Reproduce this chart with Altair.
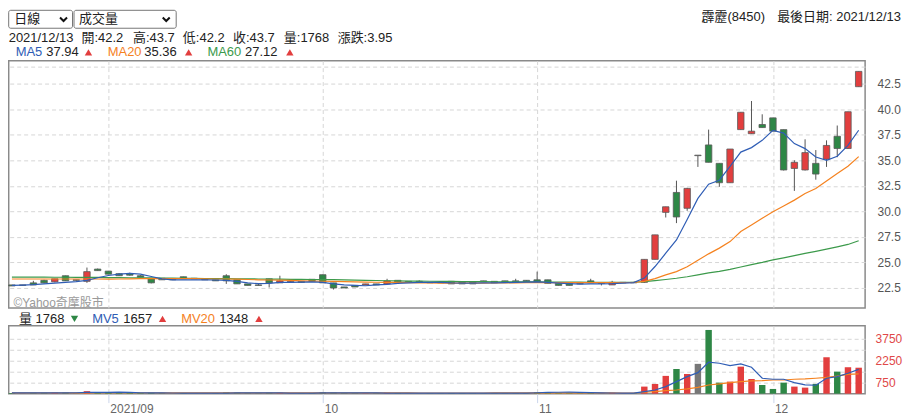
import altair as alt
import pandas as pd

# ---------------- data ----------------
opens = [22.8, 22.75, 23.0, 23.25, 23.1, 23.7, 23.25, 23.15, 24.35, 24.15,
         23.9, 23.9, 23.7, 23.4, 23.45, 23.3, 23.6, 23.4, 23.3, 23.3,
         23.7, 23.3, 22.9, 22.8, 23.4, 23.0, 23.05, 23.15, 23.35, 23.8,
         23.0, 22.6, 22.75, 22.8, 22.9, 22.9, 23.25, 23.1, 23.1, 23.05,
         23.05, 23.15, 23.1, 23.1, 23.2, 23.15, 23.2, 23.2, 23.25, 23.3,
         23.3, 22.95, 22.95, 22.95, 23.2, 22.95, 22.8, 23.0, 23.05, 23.05,
         25.3, 29.9, 31.85, 30.3, 35.45, 36.5, 34.7, 32.8, 38.0, 37.6,
         38.5, 39.15, 38.0, 34.2, 34.05, 34.7, 35.1, 37.35, 36.15, 42.2]
highs = [22.8, 22.8, 23.2, 23.3, 23.4, 23.7, 23.3, 24.5, 24.4, 24.15,
         23.95, 24.0, 23.75, 23.4, 23.45, 23.35, 23.6, 23.45, 23.35, 23.3,
         23.85, 23.3, 22.9, 22.9, 23.4, 23.7, 23.15, 23.15, 23.35, 23.8,
         23.0, 22.6, 22.75, 22.9, 22.9, 23.4, 23.25, 23.1, 23.25, 23.05,
         23.05, 23.15, 23.1, 23.1, 23.2, 23.15, 23.2, 23.4, 23.25, 24.1,
         23.3, 22.95, 22.95, 22.95, 23.4, 22.95, 23.2, 23.05, 23.05, 25.3,
         27.7, 30.45, 33.0, 32.3, 35.45, 38.0, 34.7, 36.1, 39.7, 40.8,
         39.5, 39.15, 38.0, 35.0, 37.05, 36.0, 36.95, 38.4, 39.75, 43.7]
lows = [22.7, 22.75, 22.8, 22.95, 23.05, 23.2, 23.2, 23.0, 24.2, 23.85,
        23.7, 23.7, 23.55, 22.95, 23.3, 23.3, 23.4, 23.4, 23.3, 23.2,
        22.9, 22.9, 22.75, 22.75, 22.55, 23.0, 23.05, 23.05, 23.15, 23.0,
        22.35, 22.5, 22.6, 22.8, 22.8, 22.9, 23.05, 23.1, 23.1, 23.0,
        23.0, 22.9, 22.9, 22.9, 23.1, 23.0, 23.1, 23.1, 23.1, 23.1,
        22.95, 22.75, 22.75, 22.9, 23.0, 22.75, 22.8, 23.0, 23.0, 23.0,
        25.3, 29.4, 28.85, 30.05, 34.35, 34.8, 32.4, 32.8, 38.0, 37.6,
        38.2, 37.85, 34.0, 32.0, 34.0, 33.1, 34.35, 35.3, 36.1, 42.2]
closes = [22.7, 22.75, 22.8, 23.0, 23.4, 23.2, 23.25, 24.1, 24.2, 23.85,
          23.7, 23.75, 23.55, 23.0, 23.3, 23.3, 23.4, 23.4, 23.3, 23.2,
          23.2, 22.9, 22.75, 22.75, 23.0, 23.2, 23.15, 23.05, 23.15, 23.0,
          22.5, 22.5, 22.6, 22.9, 22.8, 23.2, 23.1, 23.1, 23.1, 23.0,
          23.0, 22.9, 22.9, 22.9, 23.1, 23.0, 23.1, 23.1, 23.1, 23.1,
          22.95, 22.75, 22.75, 22.9, 23.0, 22.95, 23.05, 23.05, 23.0, 25.3,
          27.7, 30.45, 29.45, 32.25, 35.45, 34.8, 32.8, 36.1, 39.7, 37.85,
          38.2, 37.85, 34.05, 34.8, 35.75, 33.65, 36.45, 36.15, 39.75, 43.7]
volumes = [45, 30, 60, 55, 70, 80, 40, 170, 90, 75,
           50, 45, 40, 60, 35, 20, 40, 25, 20, 30,
           85, 70, 30, 25, 60, 55, 20, 25, 35, 95,
           80, 40, 35, 30, 30, 60, 45, 15, 20, 25,
           25, 45, 40, 35, 30, 30, 25, 30, 30, 90,
           60, 45, 40, 25, 50, 30, 55, 20, 25, 480,
           660, 1210, 1680, 1340, 2030, 4340, 750, 820, 1840, 1000,
           590, 320, 750, 480, 410, 660, 2480, 1500, 1800, 1768]
ma5 = [22.75, 22.78, 22.82, 22.9, 22.97, 23.05, 23.12, 23.24, 23.5, 23.72,
       23.85, 23.92, 23.85, 23.62, 23.4, 23.3, 23.3, 23.3, 23.3, 23.28,
       23.25, 23.15, 23.0, 22.92, 22.95, 23.05, 23.05, 23.08, 23.1, 23.05,
       22.9, 22.8, 22.75, 22.72, 22.8, 22.85, 22.95, 23.0, 23.05, 23.05,
       23.05, 23.0, 22.98, 22.98, 23.0, 23.0, 23.02, 23.05, 23.08, 23.1,
       23.05, 22.98, 22.92, 22.88, 22.9, 22.9, 22.92, 22.98, 23.02, 23.47,
       24.6, 25.9, 27.2, 29.2, 31.27, 32.66, 33.05, 34.41, 35.8, 36.24,
       36.95, 37.92, 37.66, 36.63, 36.14, 35.32, 35.0, 35.39, 36.46, 37.94]
ma20 = [23.38, 23.38, 23.38, 23.38, 23.38, 23.38, 23.38, 23.38, 23.38, 23.37,
        23.38, 23.4, 23.42, 23.42, 23.42, 23.42, 23.42, 23.42, 23.4, 23.38,
        23.38, 23.36, 23.33, 23.3, 23.28, 23.26, 23.24, 23.2, 23.18, 23.16,
        23.14, 23.12, 23.1, 23.08, 23.06, 23.05, 23.04, 23.02, 23.0, 22.99,
        22.98, 22.98, 22.98, 22.98, 22.98, 22.99, 23.0, 23.0, 23.01, 23.02,
        23.02, 23.02, 23.02, 23.02, 23.02, 23.02, 23.02, 23.03, 23.04, 23.15,
        23.42, 23.78, 24.1, 24.58, 25.22, 25.84, 26.4, 27.04, 28.02, 28.67,
        29.32, 29.96, 30.52, 31.1, 31.75, 32.24, 32.98, 33.7, 34.41, 35.36]
ma60 = [23.57, 23.57, 23.56, 23.56, 23.55, 23.55, 23.54, 23.54, 23.53, 23.52,
        23.51, 23.5, 23.49, 23.48, 23.47, 23.46, 23.45, 23.44, 23.43, 23.42,
        23.41, 23.4, 23.39, 23.38, 23.37, 23.36, 23.35, 23.34, 23.33, 23.32,
        23.31, 23.29, 23.27, 23.25, 23.23, 23.21, 23.2, 23.18, 23.17, 23.16,
        23.15, 23.14, 23.13, 23.12, 23.12, 23.11, 23.1, 23.1, 23.09, 23.09,
        23.08, 23.08, 23.07, 23.07, 23.06, 23.06, 23.05, 23.05, 23.06, 23.12,
        23.22, 23.33, 23.45, 23.6, 23.78, 23.98, 24.13, 24.32, 24.55, 24.78,
        25.0, 25.25, 25.45, 25.66, 25.88, 26.08, 26.3, 26.53, 26.76, 27.12]
mv5 = [55, 55, 52, 50, 52, 59, 61, 83, 90, 91,
       97, 86, 62, 52, 46, 43, 40, 36, 30, 31,
       40, 46, 48, 48, 54, 48, 42, 37, 40, 48,
       50, 56, 57, 56, 52, 40, 38, 34, 34, 33,
       30, 30, 32, 34, 37, 36, 33, 31, 30, 60,
       80, 95, 100, 90, 70, 55, 44, 36, 38, 136,
       250, 477, 818, 1160, 1432, 2140, 2073, 1910, 2025, 1800,
       1050, 982, 982, 750, 593, 573, 1050, 1160, 1391, 1657]
mv20 = [52, 52, 51, 51, 52, 53, 53, 58, 60, 61,
        62, 62, 61, 60, 58, 56, 55, 54, 52, 50,
        52, 53, 53, 52, 52, 51, 50, 49, 49, 50,
        50, 50, 50, 49, 48, 48, 47, 46, 45, 44,
        44, 44, 45, 45, 45, 46, 46, 46, 46, 47,
        48, 48, 48, 47, 47, 46, 46, 45, 45, 100,
        136, 200, 250, 320, 430, 590, 660, 750, 818, 864,
        886, 930, 930, 980, 1000, 1050, 1114, 1200, 1310, 1348]

month_idx = [9, 29, 49, 71]
month_labels = ["2021/09", "10", "11", "12"]
price_ticks = [22.5, 25.0, 27.5, 30.0, 32.5, 35.0, 37.5, 40.0, 42.5]
extra_grid = [44.15]
vol_ticks = [750, 1500, 2250, 3000, 3750]

stock_name = "霹靂(8450)"
last_date = "2021/12/13"
head_items = ["開:42.2", "高:43.7", "低:42.2", "收:43.7", "量:1768", "漲跌:3.95"]
ma_names = ["MA5", "MA20", "MA60"]
ma_vals = ["37.94", "35.36", "27.12"]
mv_names = ["MV5", "MV20"]
mv_vals = ["1657", "1348"]
vol_last = "1768"

# ---------------- styles ----------------
FONT = "Arial, 'Liberation Sans', 'Noto Sans CJK TC', sans-serif"
RED = "#e23e3e"
GREEN = "#2e8746"
GRAY = "#777777"
BLUE = "#2f5db5"
ORANGE = "#f5821f"
MGREEN = "#3c9a4b"
GRID = "#d6d6d6"
W = 859

n = len(closes)
df = pd.DataFrame({"i": list(range(n)), "o": opens, "h": highs, "l": lows, "c": closes,
                   "v": volumes, "ma5": ma5, "ma20": ma20, "ma60": ma60,
                   "mv5": mv5, "mv20": mv20})
df["dir"] = ["up" if c > o else ("down" if c < o else "flat") for o, c in zip(opens, closes)]
one = pd.DataFrame({"k": [0]})

xscale = alt.Scale(domain=[-0.3, 79.6], nice=False, zero=False)
pscale = alt.Scale(domain=[20.55, 44.75], nice=False, zero=False)
vscale = alt.Scale(domain=[0, 4620], nice=False)
color = alt.Color("dir:N", scale=alt.Scale(domain=["up", "down", "flat"], range=[RED, GREEN, GRAY]), legend=None)

lab_expr = "''"
for v, l in reversed(list(zip(month_idx, month_labels))):
    lab_expr = f"datum.value == {v} ? '{l}' : {lab_expr}"

px_axis = alt.Axis(values=month_idx, grid=True, gridDash=[4, 3], gridColor=GRID,
                   labels=False, ticks=False, domain=False)
py_axis = alt.Axis(orient="right", values=price_ticks + extra_grid, grid=True, gridDash=[4, 3],
                   gridColor=GRID, ticks=False, domain=False, labelPadding=12,
                   labelColor="#555", labelFontSize=12, labelFont=FONT,
                   labelExpr="datum.value > 43.5 ? '' : format(datum.value, '.1f')")
vx_axis = alt.Axis(values=month_idx, grid=True, gridDash=[4, 3], gridColor=GRID,
                   labelExpr=lab_expr, ticks=True, tickColor="#ccd6eb", tickSize=9,
                   domain=False, labelAlign="left", labelBaseline="top", labelOffset=1.5,
                   labelPadding=1, labelColor="#666", labelFontSize=12, labelFont=FONT,
                   labelFlush=False, labelOverlap=False)
vy_axis = alt.Axis(orient="right", values=vol_ticks, grid=True, gridDash=[4, 3], gridColor=GRID,
                   ticks=False, domain=False, labelPadding=10, labelColor="#e04848",
                   labelFontSize=12, labelFont=FONT, format="d")


def X(field):
    return alt.X(field, scale=xscale, axis=px_axis, title=None)


def VX(field):
    return alt.X(field, scale=xscale, axis=vx_axis, title=None)


def PY(field):
    return alt.Y(field, scale=pscale, axis=py_axis, title=None)


def VY(field):
    return alt.Y(field, scale=vscale, axis=vy_axis, title=None)


base = alt.Chart(df)

# ---------------- price panel ----------------
wick = base.mark_rule(color="#555", strokeWidth=1).encode(x=X("i:Q"), y=PY("l:Q"), y2="h:Q")
body = base.transform_calculate(
    x0="datum.i - 0.3", x1="datum.i + 0.3",
    c2="datum.c == datum.o ? datum.o + 0.05 : datum.c"
).mark_rect(stroke="#5a5a5a", strokeWidth=0.8).encode(
    x=X("x0:Q"), x2="x1:Q", y=PY("o:Q"), y2="c2:Q", color=color)
l60 = base.mark_line(color=MGREEN, strokeWidth=1.2).encode(x=X("i:Q"), y=PY("ma60:Q"))
l20 = base.mark_line(color=ORANGE, strokeWidth=1.2).encode(x=X("i:Q"), y=PY("ma20:Q"))
l5 = base.mark_line(color=BLUE, strokeWidth=1.2).encode(x=X("i:Q"), y=PY("ma5:Q"))
copyr = alt.Chart(one).mark_text(text="©Yahoo奇摩股市", align="left", baseline="middle",
                                 fontSize=12, color="#9a9a9a", font=FONT).encode(
    x=alt.value(4.7), y=alt.value(243))

price = alt.layer(wick, body, l60, l20, l5, copyr).properties(
    width=W, height=248, view=alt.ViewBackground(stroke="#8a8a8a", strokeWidth=1.5))

# ---------------- volume panel ----------------
vbar = base.transform_calculate(x0="datum.i - 0.3", x1="datum.i + 0.3").mark_rect().encode(
    x=VX("x0:Q"), x2="x1:Q", y=VY("v:Q"), y2=alt.datum(0), color=color)
vl20 = base.mark_line(color=ORANGE, strokeWidth=1.2).encode(x=VX("i:Q"), y=VY("mv20:Q"))
vl5 = base.mark_line(color=BLUE, strokeWidth=1.2).encode(x=VX("i:Q"), y=VY("mv5:Q"))
vol = alt.layer(vbar, vl20, vl5).properties(
    width=W, height=68, view=alt.ViewBackground(stroke="#8a8a8a", strokeWidth=1.5))


# ---------------- header pieces ----------------
def txt(s, x, y, color="#222", size=13, align="left"):
    return alt.Chart(one).mark_text(text=s, align=align, baseline="middle", fontSize=size,
                                    color=color, font=FONT).encode(x=alt.value(x), y=alt.value(y))


def tri(x, y, up=True):
    return alt.Chart(one).mark_point(shape="triangle-up" if up else "triangle-down", filled=True,
                                     size=55, opacity=1, color=RED if up else GREEN).encode(
        x=alt.value(x), y=alt.value(y))


def box(x0, x1):
    return alt.Chart(one).mark_rect(fill="white", stroke="#767676", strokeWidth=1, cornerRadius=2).encode(
        x=alt.value(x0), x2=alt.value(x1), y=alt.value(1.5), y2=alt.value(19.5))


def chevron(x):
    return alt.Chart(one).mark_point(shape="M-1,-0.5L0,0.5L1,-0.5", filled=False, stroke="#111",
                                     strokeWidth=2, size=49, opacity=1).encode(
        x=alt.value(x), y=alt.value(10.5))


hdr_layers = [box(0, 64), box(65.5, 168), txt("日線", 5.5, 10.5), txt("成交量", 70.5, 10.5),
              chevron(55), chevron(158),
              txt(stock_name, 695, 8),
              txt("最後日期: " + last_date, 895, 8, align="right"),
              txt(last_date, 0, 29)]
for s, x in zip(head_items, [73, 124.7, 174.7, 225, 276, 330]):
    hdr_layers.append(txt(s, x, 29))
ma_colors = [BLUE, ORANGE, MGREEN]
for name, val, col, xn, xv, xt in zip(ma_names, ma_vals, ma_colors,
                                      [7, 99.3, 199.3], [37.7, 136, 237], [80, 180.5, 282]):
    hdr_layers.append(txt(name, xn, 43.7, color=col))
    hdr_layers.append(txt(val, xv, 43.7))
    hdr_layers.append(tri(xt, 43.7))
header = alt.layer(*hdr_layers).properties(width=W, height=52,
                                            view=alt.ViewBackground(stroke="transparent"))

vh_layers = [txt("量", 10.3, 11), txt(vol_last, 27, 11), tri(66, 11, up=False)]
for name, val, col, xn, xv, xt in zip(mv_names, mv_vals, [BLUE, ORANGE],
                                      [83.7, 173], [115, 211.3], [154.3, 251]):
    vh_layers.append(txt(name, xn, 11, color=col))
    vh_layers.append(txt(val, xv, 11))
    vh_layers.append(tri(xt, 11))
volhead = alt.layer(*vh_layers).properties(width=W, height=18,
                                            view=alt.ViewBackground(stroke="transparent"))

chart = alt.vconcat(header, price, volhead, vol, spacing=0, bounds="flush").properties(
    padding={"left": -1.3, "right": 0, "top": -0.8, "bottom": 0}
).configure(font=FONT)

chart.save("out.html", embed_options={"renderer": "svg", "actions": False})
